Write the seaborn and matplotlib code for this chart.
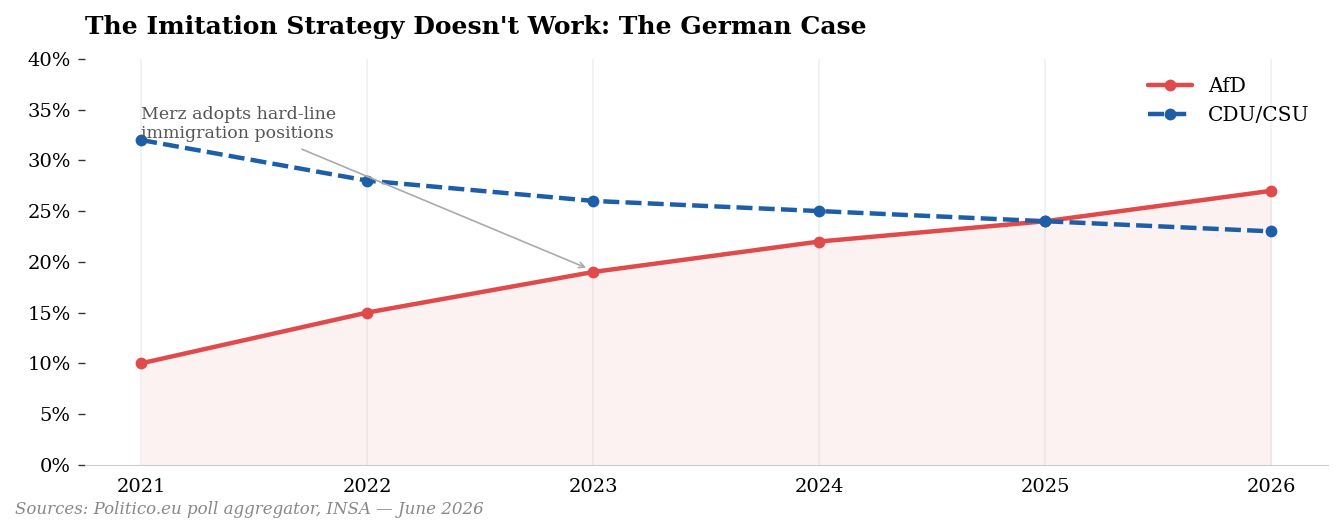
import pandas as pd
import numpy as np
import matplotlib.pyplot as plt
import seaborn as sns
from matplotlib.ticker import PercentFormatter

years = [2021, 2022, 2023, 2024, 2025, 2026]
afd = [10, 15, 19, 22, 24, 27]
cdu = [32, 28, 26, 25, 24, 23]

sns.set_style('white')
plt.rcParams['font.family'] = 'DejaVu Serif'
plt.rcParams['text.color'] = 'black'
plt.rcParams['xtick.color'] = 'black'
plt.rcParams['ytick.color'] = 'black'

df = pd.DataFrame({'year': years + years,
                   'share': afd + cdu,
                   'party': ['AfD'] * 6 + ['CDU/CSU'] * 6})

red = '#e04a4a'
blue = '#1c5ea8'

fig, ax = plt.subplots(figsize=(13.44, 5.3), dpi=100)
fig.subplots_adjust(left=0.063, right=0.988, top=0.889, bottom=0.123)

ax.fill_between(years, afd, 0, color=red, alpha=0.07, lw=0)
sns.lineplot(data=df, x='year', y='share', hue='party', style='party',
             palette={'AfD': red, 'CDU/CSU': blue},
             dashes={'AfD': '', 'CDU/CSU': (3.6, 1.4)},
             markers={'AfD': 'o', 'CDU/CSU': 'o'}, markersize=8.5, markeredgewidth=0,
             linewidth=3.2, ax=ax)

ax.set_ylim(0, 40)
ax.set_xticks(years)
ax.set_yticks(range(0, 41, 5))
ax.yaxis.set_major_formatter(PercentFormatter(decimals=0))
ax.tick_params(axis='y', left=True, length=5, width=1, color='#333333', labelsize=14, pad=5)
ax.tick_params(axis='x', bottom=False, labelsize=14, pad=6)
ax.grid(axis='x', color='#f0f0f0', lw=1.2)
for s in ['top', 'right', 'left']:
    ax.spines[s].set_visible(False)
ax.spines['bottom'].set_color('#cccccc')
ax.set_xlabel('')
ax.set_ylabel('')

ax.text(2021, 31.8, 'Merz adopts hard-line\nimmigration positions', fontsize=12.5,
        color='#555555', ha='left', va='bottom', linespacing=1.15)
ax.annotate('', xy=(2022.98, 19.3), xytext=(2021.7, 31.2),
            arrowprops=dict(arrowstyle='->', color='#aaaaaa', lw=1.2))

leg = ax.legend(loc='upper right', frameon=False, fontsize=14.5, handlelength=2.2)
leg.set_title(None)

ax.set_title("The Imitation Strategy Doesn't Work: The German Case",
             loc='left', fontsize=18, fontweight='bold', pad=18)
fig.text(0.011, 0.03, 'Sources: Politico.eu poll aggregator, INSA \u2014 June 2026',
         fontsize=12, style='italic', color='#888888')

plt.savefig('out.png', dpi=100)
